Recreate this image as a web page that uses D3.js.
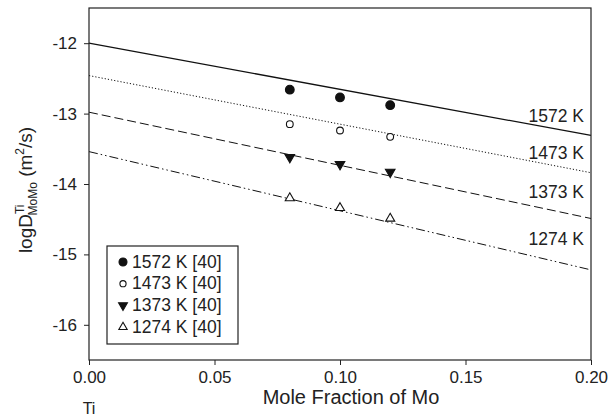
<!DOCTYPE html>
<html>
<head>
<meta charset="utf-8">
<script src="https://cdn.jsdelivr.net/npm/d3@7"></script>
<style>
  body { margin: 0; background: #fff; }
  svg { font-family: "Liberation Sans", Arial, sans-serif; }
</style>
</head>
<body>
<div id="chart"></div>
<script>
"use strict";

// temperatures (K)
const temps = [1572, 1473, 1373, 1274];
// fitted line endpoints at x = 0 and x = 0.2
const lineX = [0, 0.2];
const lineY = {
  1572: [-12.0, -13.31],
  1473: [-12.46, -13.84],
  1373: [-12.98, -14.49],
  1274: [-13.54, -15.22]
};
// experimental points [40]
const pointX = [0.08, 0.10, 0.12];
const pointY = {
  1572: [-12.66, -12.77, -12.88],
  1473: [-13.15, -13.24, -13.33],
  1373: [-13.62, -13.72, -13.83],
  1274: [-14.2, -14.34, -14.49]
};
const xTicks = [0, 0.05, 0.1, 0.15, 0.2];
const yTicks = [-16, -15, -14, -13, -12];
const labelY = { 1572: -13.05, 1473: -13.58, 1373: -14.13, 1274: -14.8 };

const width = 613, height = 420;
const margin = { top: 8, right: 22, bottom: 60, left: 89 };
const iw = width - margin.left - margin.right;
const ih = height - margin.top - margin.bottom;

const svg = d3.select("#chart").append("svg")
  .attr("width", width)
  .attr("height", height);

const g = svg.append("g")
  .attr("transform", `translate(${margin.left},${margin.top})`);

const x = d3.scaleLinear().domain([0, 0.2]).range([0, iw]);
const y = d3.scaleLinear().domain([-16.5, -11.5]).range([ih, 0]);

const dash = {
  1572: null,
  1473: "1.2,2",
  1373: "9,4",
  1274: "9,3,1.5,3,1.5,3"
};

// lines
const line = d3.line().x(d => x(d[0])).y(d => y(d[1]));
temps.forEach(t => {
  g.append("path")
    .datum(lineX.map((v, i) => [v, lineY[t][i]]))
    .attr("d", line)
    .attr("fill", "none")
    .attr("stroke", "#111")
    .attr("stroke-width", t === 1572 ? 1.3 : 1)
    .attr("stroke-dasharray", dash[t]);

  g.append("text")
    .attr("x", iw - 7)
    .attr("y", y(labelY[t]))
    .attr("text-anchor", "end")
    .attr("dominant-baseline", "middle")
    .attr("font-size", 17.5)
    .attr("fill", "#222")
    .text(`${t} K`);
});

// markers
function marker(sel, t, size) {
  const sym = {
    1572: d3.symbolCircle,
    1473: d3.symbolCircle,
    1373: d3.symbolTriangle,
    1274: d3.symbolTriangle
  }[t];
  const filled = t === 1572 || t === 1373;
  sel.append("path")
    .attr("d", d3.symbol().type(sym).size(size))
    .attr("transform", t === 1373 ? "rotate(180)" : null)
    .attr("fill", filled ? "#111" : "#fff")
    .attr("stroke", "#111")
    .attr("stroke-width", 1.1);
}

temps.forEach(t => {
  pointX.forEach((px, i) => {
    const m = g.append("g")
      .attr("transform", `translate(${x(px)},${y(pointY[t][i])})`);
    marker(m, t, t === 1572 ? 60 : (t === 1373 ? 40 : 36));
  });
});

// axes
const xAxis = g.append("g")
  .attr("transform", `translate(0,${ih})`)
  .call(d3.axisBottom(x).tickValues(xTicks).tickSize(5).tickPadding(6)
    .tickFormat(d3.format(".2f")));
const yAxis = g.append("g")
  .call(d3.axisLeft(y).tickValues(yTicks).tickSize(5).tickPadding(7)
    .tickFormat(d => d3.format("d")(d).replace("\u2212", "-")));

[xAxis, yAxis].forEach(a => {
  a.select(".domain").remove();
  a.selectAll("line").attr("stroke", "#222");
  a.selectAll("text").attr("font-size", 17).attr("fill", "#222")
    .attr("font-family", "Liberation Sans, Arial, sans-serif");
});

// frame
g.append("rect")
  .attr("width", iw)
  .attr("height", ih)
  .attr("fill", "none")
  .attr("stroke", "#222")
  .attr("stroke-width", 1.2);

// legend
const lg = g.append("g").attr("transform", `translate(${107 - margin.left},${246 - margin.top})`);
lg.append("rect")
  .attr("width", 131)
  .attr("height", 98)
  .attr("fill", "#fff")
  .attr("stroke", "#222")
  .attr("stroke-width", 1.2);
temps.forEach((t, i) => {
  const row = lg.append("g").attr("transform", `translate(16,${16 + i * 21.7})`);
  marker(row, t, t === 1572 ? 50 : (t === 1373 ? 34 : 30));
  row.append("text")
    .attr("x", 9)
    .attr("y", 1)
    .attr("dominant-baseline", "middle")
    .attr("font-size", 17.5)
    .attr("fill", "#222")
    .text(`${t} K [40]`);
});

// axis titles
svg.append("text")
  .attr("x", 351)
  .attr("y", 404)
  .attr("text-anchor", "middle")
  .attr("font-size", 20)
  .attr("fill", "#222")
  .text("Mole Fraction of Mo");

svg.append("text")
  .attr("x", margin.left)
  .attr("y", 414)
  .attr("text-anchor", "middle")
  .attr("font-size", 16)
  .attr("fill", "#222")
  .text("Ti");

const yt = svg.append("text")
  .attr("transform", `translate(32,${margin.top + ih / 2 + 6}) rotate(-90)`)
  .attr("text-anchor", "middle")
  .attr("font-size", 19)
  .attr("fill", "#222");
yt.append("tspan").text("logD");
yt.append("tspan").attr("font-size", 12).attr("dy", -8).text("Ti");
yt.append("tspan").attr("font-size", 12).attr("dy", 13).attr("dx", -11).text("MoMo");
yt.append("tspan").attr("dy", -5).text(" (m");
yt.append("tspan").attr("font-size", 12).attr("dy", -8).text("2");
yt.append("tspan").attr("dy", 8).text("/s)");
</script>
</body>
</html>
